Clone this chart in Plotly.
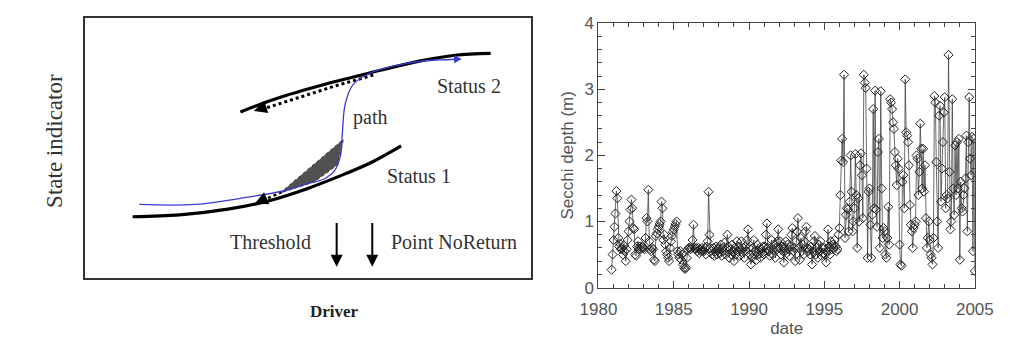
import plotly.graph_objects as go

# ---------------- time-series data (Secchi depth, m) ----------------
years = list(range(1980, 2005))
n_per_year = 16
s1980 = [None] * 14 + [0.27, 0.5]
s1981 = [0.72, 0.92, 1.12, 1.46, 1.35, 0.75, 0.62, 0.66, 0.58, 0.6, 0.5, 0.64, 0.55, 0.4, 0.58, 0.72]
s1982 = [0.85, 1.0, 1.18, 1.33, 1.2, 0.9, 0.88, 0.5, 0.48, 0.62, 0.7, 0.58, 0.62, 0.58, 0.6, 0.62]
s1983 = [0.6, 0.58, 0.75, 1.05, 1.0, 1.48, 0.7, 0.58, 0.55, 0.6, 0.58, 0.42, 0.4, 0.78, 0.82, 0.88]
s1984 = [0.92, 0.96, 1.0, 1.3, 1.2, 0.72, 0.8, 0.65, 0.55, 0.5, 0.45, 0.4, 0.6, 0.7, 0.78, 0.84]
s1985 = [0.88, 0.92, 0.96, 1.0, 0.55, 0.5, 0.45, 0.55, 0.42, 0.5, 0.35, 0.3, 0.28, 0.3, 0.45, 0.58]
s1986 = [0.6, 0.6, 0.58, 0.6, 0.72, 0.95, 0.6, 0.58, 0.6, 0.55, 0.6, 0.52, 0.58, 0.55, 0.6, 0.56]
s1987 = [0.55, 0.6, 0.5, 0.62, 0.7, 1.45, 0.8, 0.6, 0.55, 0.5, 0.6, 0.48, 0.55, 0.62, 0.5, 0.58]
s1988 = [0.6, 0.52, 0.65, 0.48, 0.6, 0.55, 0.68, 0.5, 0.6, 0.8, 0.62, 0.45, 0.58, 0.5, 0.65, 0.55]
s1989 = [0.4, 0.6, 0.5, 0.7, 0.55, 0.62, 0.48, 0.58, 0.7, 0.52, 0.6, 0.45, 0.62, 0.55, 0.72, 0.88]
s1990 = [0.6, 0.5, 0.35, 0.45, 0.6, 0.72, 0.5, 0.55, 0.42, 0.65, 0.5, 0.6, 0.45, 0.58, 0.52, 0.62]
s1991 = [0.5, 0.62, 0.8, 0.97, 0.6, 0.55, 0.48, 0.6, 0.72, 0.5, 0.58, 0.65, 0.45, 0.6, 0.7, 0.88]
s1992 = [0.6, 0.7, 0.5, 0.62, 0.55, 0.38, 0.6, 0.7, 0.52, 0.65, 0.58, 0.48, 0.62, 0.8, 0.9, 0.55]
s1993 = [0.6, 0.4, 0.7, 0.85, 1.05, 0.6, 0.42, 0.75, 0.55, 0.65, 0.5, 0.7, 0.85, 0.92, 0.6, 0.55]
s1994 = [0.58, 0.5, 0.62, 0.35, 0.55, 0.7, 0.78, 0.5, 0.6, 0.45, 0.65, 0.55, 0.7, 0.48, 0.6, 0.52]
s1995 = [0.6, 0.5, 0.38, 0.55, 0.88, 0.62, 0.5, 0.7, 0.58, 0.65, 0.6, 0.72, 0.62, 0.55, 0.58, 0.8]
s1996 = [0.9, 1.4, 1.92, 2.25, 1.9, 3.22, 0.75, 1.1, 1.2, 1.18, 0.85, 1.3, 2.0, 1.45, 0.85, 1.0]
s1997 = [1.2, 2.02, 1.4, 0.6, 1.35, 1.0, 1.85, 2.03, 1.7, 1.05, 3.22, 3.1, 3.02, 1.8, 0.45, 1.45]
s1998 = [1.5, 0.95, 0.45, 1.1, 2.7, 1.2, 2.98, 1.18, 0.92, 2.05, 2.25, 0.6, 2.97, 1.5, 0.75, 0.9]
s1999 = [0.85, 0.5, 0.45, 0.75, 1.22, 0.65, 2.85, 2.8, 2.7, 2.5, 2.4, 2.05, 1.85, 1.55, 1.95, 1.8]
s2000 = [0.65, 0.35, 0.33, 1.6, 1.7, 1.2, 3.15, 2.35, 2.3, 2.2, 1.85, 1.25, 0.95, 0.85, 0.6, 0.9]
s2001 = [0.95, 1.0, 2.0, 1.95, 1.4, 1.75, 2.48, 2.1, 1.5, 2.1, 1.45, 1.85, 1.05, 0.6, 0.75, 1.0]
s2002 = [0.72, 0.5, 0.45, 0.35, 0.75, 2.9, 2.8, 1.9, 1.0, 0.6, 2.6, 2.75, 1.3, 1.8, 2.2, 2.65]
s2003 = [2.88, 1.2, 1.4, 1.35, 3.52, 1.75, 0.88, 1.0, 2.85, 1.5, 1.1, 2.15, 1.4, 2.2, 1.5, 2.25]
s2004 = [0.42, 1.6, 1.2, 1.15, 1.4, 1.5, 1.65, 2.3, 0.85, 2.2, 2.88, 1.95, 1.7, 2.28, 0.55, 2.25]
s2005 = [0.25]

yearly = [s1980, s1981, s1982, s1983, s1984, s1985, s1986, s1987, s1988, s1989,
          s1990, s1991, s1992, s1993, s1994, s1995, s1996, s1997, s1998, s1999,
          s2000, s2001, s2002, s2003, s2004]

dates, secchi = [], []
for yr, vals in zip(years, yearly):
    for i, v in enumerate(vals):
        dates.append(yr + i / n_per_year)
        secchi.append(v)
dates.append(2005.0)
secchi.append(s2005[0])

x_ticks = [1980, 1985, 1990, 1995, 2000, 2005]
y_ticks = [0, 1, 2, 3, 4]

# ---------------- conceptual diagram (diagram units) ----------------
status1_x = [118, 167, 217, 260, 300, 333, 367, 397]
status1_y = [220, 218, 212, 203, 190, 177, 162, 145]
status2_x = [230, 267, 317, 367, 417, 453, 490]
status2_y = [109, 95, 80, 67, 55, 49, 47]
path_x = [125, 183, 233, 273, 300, 317, 328, 334, 336, 339, 347, 367, 400, 433, 458]
path_y = [207, 207, 200, 193, 185, 180, 171, 155, 130, 100, 80, 67, 58, 54, 53]
back2_x = [368, 330, 290, 250]
back2_y = [70, 81, 94, 107]
back1_x = [273, 250]
back1_y = [194, 204]
wedge_x = [271, 337, 331, 307, 271]
wedge_y = [195, 138, 165, 183, 195]

fig = go.Figure()

# diagram curves
fig.add_trace(go.Scatter(x=status1_x, y=status1_y, mode="lines", line=dict(color="black", width=3.2, shape="spline"),
                         xaxis="x2", yaxis="y2", hoverinfo="skip"))
fig.add_trace(go.Scatter(x=status2_x, y=status2_y, mode="lines", line=dict(color="black", width=3.2, shape="spline"),
                         xaxis="x2", yaxis="y2", hoverinfo="skip"))
fig.add_trace(go.Scatter(x=wedge_x, y=wedge_y, mode="lines", fill="toself", fillcolor="rgba(50,50,50,0.85)",
                         line=dict(color="#333", width=1, dash="dot"), xaxis="x2", yaxis="y2", hoverinfo="skip"))
fig.add_trace(go.Scatter(x=back2_x, y=back2_y, mode="lines", line=dict(color="black", width=3, dash="dot"),
                         xaxis="x2", yaxis="y2", hoverinfo="skip"))
fig.add_trace(go.Scatter(x=back1_x, y=back1_y, mode="lines", line=dict(color="black", width=2.5, dash="dot"),
                         xaxis="x2", yaxis="y2", hoverinfo="skip"))
fig.add_trace(go.Scatter(x=path_x, y=path_y, mode="lines", line=dict(color="#3a3ad0", width=1.3, shape="spline"),
                         xaxis="x2", yaxis="y2", hoverinfo="skip"))

# time series
fig.add_trace(go.Scatter(x=dates, y=secchi, mode="lines+markers",
                         line=dict(color="#444", width=0.8),
                         marker=dict(symbol="diamond-open", size=7, color="#222", line=dict(width=1)),
                         hoverinfo="skip"))

W, H = 1016, 341
serif = "Liberation Serif, Times New Roman, serif"
sans = "Liberation Sans, Arial, sans-serif"
txt = "#333"

annotations = []
def dlabel(text, x, y, size=20):
    annotations.append(dict(text=text, x=x, y=y, xref="x2", yref="y2", showarrow=False,
                            font=dict(family=serif, size=size, color=txt), xanchor="center", yanchor="middle"))

dlabel("Status 2", 468, 82)
dlabel("path", 365, 115)
dlabel("Status 1", 416, 177)
dlabel("Threshold", 261, 247)
dlabel("Point NoReturn", 452, 247)

# arrowheads
def arrow(x, y, ax, ay, color="black", width=2, head=2, size=1.2):
    annotations.append(dict(text="", x=x, y=y, ax=ax, ay=ay, xref="x2", yref="y2", axref="x2", ayref="y2",
                            showarrow=True, arrowhead=head, arrowsize=size, arrowwidth=width, arrowcolor=color))

arrow(330, 273, 330, 225)
arrow(367, 273, 367, 225)
arrow(244, 108, 256, 104, width=2, head=2, size=1.3)
arrow(245, 206, 256, 201, width=2, head=2, size=1.3)
arrow(460, 53, 440, 54, color="#3a3ad0", width=1.2, head=2, size=1.3)

annotations.append(dict(text="State indicator", x=22 / W, y=1 - 140 / H, xref="paper", yref="paper",
                        textangle=-90, showarrow=False, font=dict(family=serif, size=23, color=txt)))
annotations.append(dict(text="<b>Driver</b>", x=300 / W, y=1 - 333 / H, xref="paper", yref="paper",
                        showarrow=False, font=dict(family=serif, size=17, color="#222")))

fig.update_layout(
    width=W, height=H, margin=dict(l=0, r=0, t=0, b=0),
    paper_bgcolor="white", plot_bgcolor="white", showlegend=False,
    annotations=annotations,
    xaxis=dict(domain=[602 / W, 993 / W], range=[1980, 2005], tickvals=x_ticks,
               ticks="inside", ticklen=7, tickcolor="#444", mirror="ticks",
               showline=True, linecolor="#444", linewidth=1, showgrid=False, zeroline=False,
               minor=dict(dtick=1, ticks="inside", ticklen=4, tickcolor="#444"),
               tickfont=dict(family=sans, size=17, color="#555"), ticklabelstandoff=6,
               title=dict(text="date", font=dict(family=sans, size=17, color="#555"), standoff=4)),
    yaxis=dict(domain=[1 - 295 / H, 1 - 15 / H], range=[0, 4], tickvals=y_ticks,
               ticks="inside", ticklen=7, tickcolor="#444", mirror="ticks",
               showline=True, linecolor="#444", linewidth=1, showgrid=False, zeroline=False,
               minor=dict(dtick=0.2, ticks="inside", ticklen=4, tickcolor="#444"),
               tickfont=dict(family=sans, size=17, color="#555"),
               title=dict(text="Secchi depth (m)", font=dict(family=sans, size=17, color="#555"), standoff=6)),
    xaxis2=dict(domain=[69 / W, 532 / W], range=[69, 532], anchor="y2",
                showline=True, mirror=True, linecolor="#333", linewidth=2,
                showticklabels=False, ticks="", showgrid=False, zeroline=False),
    yaxis2=dict(domain=[1 - 285 / H, 1 - 10 / H], range=[285, 10], anchor="x2",
                showline=True, mirror=True, linecolor="#333", linewidth=2,
                showticklabels=False, ticks="", showgrid=False, zeroline=False),
)

fig.write_html("out.html")
